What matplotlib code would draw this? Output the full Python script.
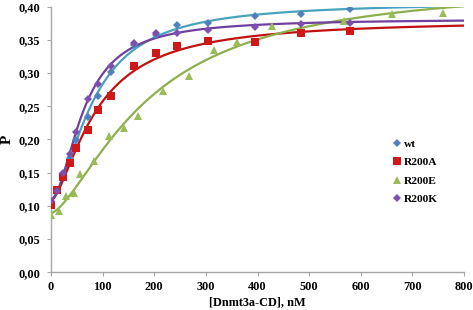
import numpy as np
import matplotlib
matplotlib.use("Agg")
import matplotlib.pyplot as plt
from matplotlib.ticker import FuncFormatter, MultipleLocator

conc = [0, 12, 24, 36, 48, 72, 92, 116, 160, 204, 244, 304, 396, 484, 580]
wt = [0.105, 0.122, 0.148, 0.172, 0.199, 0.234, 0.265, 0.301, 0.343, 0.358, 0.372, 0.376, 0.386, 0.389, 0.397]
r200a = [0.101, 0.124, 0.144, 0.165, 0.187, 0.215, 0.245, 0.266, 0.310, 0.330, 0.341, 0.348, 0.347, 0.360, 0.364]
r200k = [0.108, 0.122, 0.150, 0.178, 0.212, 0.261, 0.284, 0.311, 0.345, 0.360, 0.361, 0.365, 0.370, 0.374, 0.376]
conc_e = [0, 16, 30, 44, 57, 84, 112, 141, 168, 216, 268, 316, 360, 428, 568, 661, 760]
r200e = [0.087, 0.092, 0.115, 0.120, 0.148, 0.168, 0.205, 0.218, 0.235, 0.273, 0.296, 0.335, 0.347, 0.371, 0.378, 0.389, 0.391]

labels = ["wt", "R200A", "R200E", "R200K"]
xticks = [0, 100, 200, 300, 400, 500, 600, 700, 800]


def hill_fit(x, y):
    x = np.asarray(x, float)
    y = np.asarray(y, float)
    best = None
    for K in np.linspace(20, 600, 291):
        for n in np.linspace(0.8, 3.0, 45):
            f = x**n / (K**n + x**n)
            A = np.vstack([np.ones_like(f), f]).T
            coef, res, *_ = np.linalg.lstsq(A, y, rcond=None)
            r = np.sum((A @ coef - y) ** 2)
            if best is None or r < best[0]:
                best = (r, K, n, coef)
    _, K, n, coef = best
    return lambda xx: coef[0] + coef[1] * xx**n / (K**n + xx**n)


plt.rcParams['font.family'] = ['Liberation Serif', 'DejaVu Serif']
plt.rcParams['font.weight'] = 'bold'

fig = plt.figure(figsize=(4.73, 3.10), dpi=100)
ax = fig.add_axes([0.1078, 0.1216, 0.8732, 0.8568])

series = [
    (conc, wt, 'D', '#4F81BD', '#4AA3BC', 4.4),
    (conc, r200a, 's', '#D01818', '#C01010', 5.2),
    (conc_e, r200e, '^', '#9BBB59', '#8DAF4E', 5.4),
    (conc, r200k, 'D', '#7F4FAF', '#7040A0', 4.4),
]
xx = np.linspace(0, 800, 400)
handles = []
for (x, y, m, mc, lc, ms), lab in zip(series, labels):
    fit = hill_fit(x, y)
    ax.plot(xx, fit(xx), color=lc, lw=1.6, zorder=2)
    h, = ax.plot(x, y, linestyle='none', marker=m, color=mc, markersize=ms,
                 markeredgewidth=0, zorder=3, label=lab)
    handles.append(h)

ax.set_xlim(0, 800)
ax.set_ylim(0, 0.40)
ax.yaxis.set_major_locator(MultipleLocator(0.05))
ax.yaxis.set_major_formatter(FuncFormatter(lambda v, p: f"{v:.2f}".replace('.', ',')))
ax.set_xticks(xticks)
for s in ['top', 'right']:
    ax.spines[s].set_visible(False)
for s in ['left', 'bottom']:
    ax.spines[s].set_color('#A6A6A6')
    ax.spines[s].set_linewidth(1.0)
ax.tick_params(axis='both', colors='#A6A6A6', labelcolor='black', labelsize=8.8,
               length=3, width=0.8, direction='out')
ax.tick_params(axis='y', pad=5)
ax.set_xlabel("[Dnmt3a-CD], nM", fontsize=8.8, fontweight='bold', labelpad=2)
ax.set_ylabel("P", fontsize=11, fontweight='bold', labelpad=3)

leg = ax.legend(handles=handles, loc='upper left', bbox_to_anchor=(0.81, 0.52),
                frameon=False, fontsize=8.2, handletextpad=0.0, handlelength=1.2,
                labelspacing=0.75, borderaxespad=0)

fig.savefig("out.png", dpi=100)
